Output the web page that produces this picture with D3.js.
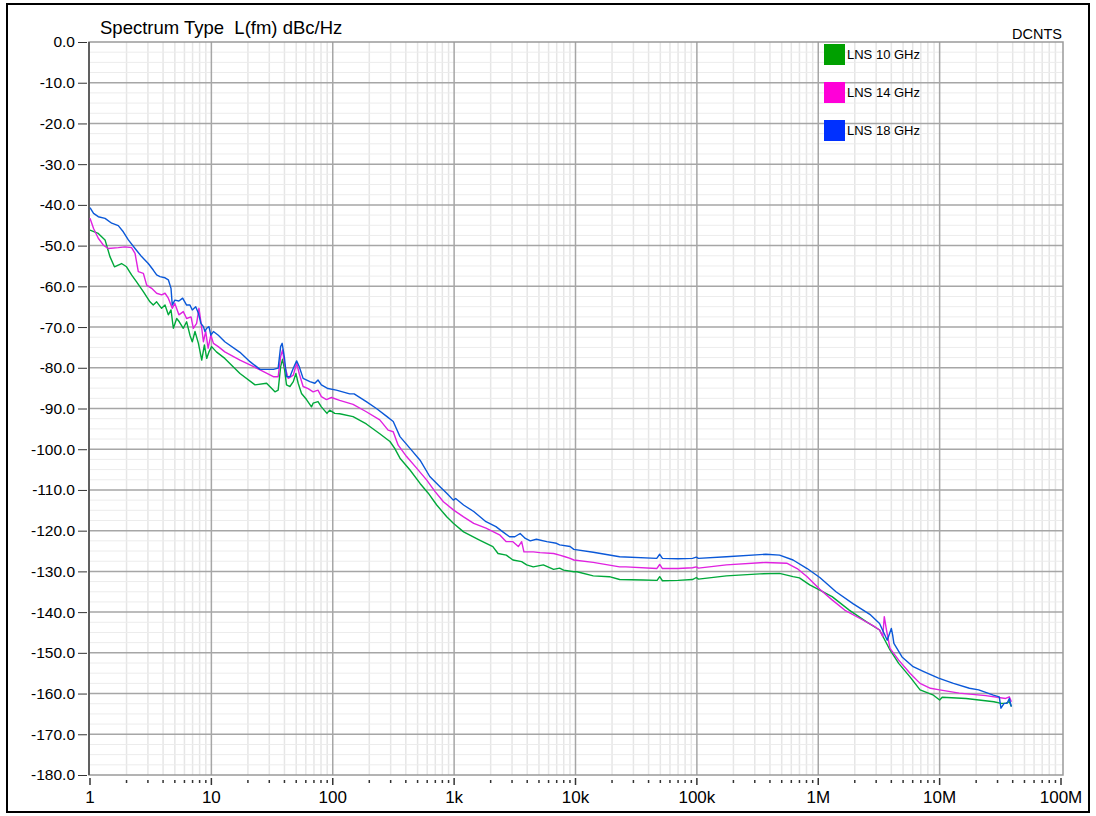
<!DOCTYPE html>
<html>
<head>
<meta charset="utf-8">
<script src="https://cdn.jsdelivr.net/npm/d3@7"></script>
<style>
  body { margin: 0; background: #fff; }
  svg { display: block; font-family: "Liberation Sans", Arial, sans-serif; }
</style>
</head>
<body>
<div id="chart"></div>
<script>
// [offset frequency Hz, L(f) dBc/Hz]
const lns10 = [
  [1, -46.2], [1.17, -47.0], [1.33, -48.6], [1.46, -52.7], [1.59, -55.2], [1.82, -54.4],
  [2.0, -55.2], [2.2, -57.2], [2.42, -58.9], [2.75, -61.3], [3.12, -63.8], [3.32, -64.6],
  [3.54, -63.8], [3.89, -65.4], [4.15, -64.6], [4.42, -67.0], [4.65, -65.8], [4.86, -70.3],
  [5.18, -67.9], [5.44, -68.7], [5.87, -70.3], [6.25, -68.7], [6.66, -72.0], [6.96, -73.6],
  [7.33, -71.1], [7.82, -74.0], [8.33, -78.1], [8.76, -74.4], [9.15, -77.7], [9.55, -76.1],
  [10.05, -74.8], [11.0, -76.1], [12.9, -77.7], [17.2, -81.4], [22.9, -84.2], [28.5, -83.8],
  [33.4, -85.9], [35.5, -85.5], [37.2, -79.7], [38.6, -77.9], [40.1, -80.5], [41.6, -84.2],
  [44.4, -84.6], [47.3, -83.4], [49.7, -81.4], [51.9, -83.8], [55.3, -86.3], [60.8, -87.8],
  [66.8, -89.6], [68.9, -88.7], [75.6, -88.3], [80.6, -89.6], [89.6, -91.2], [94.3, -90.4],
  [103.8, -91.2], [114, -91.3], [147, -92.0], [189, -93.8], [244, -96.2], [296, -98.1],
  [324, -99.8], [358, -102.2], [433, -105.1], [524, -108.4], [612, -110.8], [719, -113.7],
  [869, -116.6], [985, -118.2], [1196, -120.3], [1620, -122.3], [2085, -123.9], [2300, -125.6],
  [2690, -126.0], [3050, -127.2], [3600, -127.6], [3960, -128.4], [4490, -128.9], [5430, -128.4],
  [6600, -129.5], [7400, -129.2], [7980, -129.7], [9680, -130.1], [10300, -130.1], [14000, -131.1],
  [19000, -131.3], [23100, -132.0], [36000, -132.1], [47000, -132.2], [49400, -131.3], [52000, -132.3],
  [70000, -132.2], [92000, -132.0], [99000, -131.5], [103000, -131.9], [175000, -131.1], [330000, -130.6],
  [480000, -130.5], [620000, -131.3], [700000, -131.6], [850000, -133.3], [1.03e6, -134.6],
  [1.3e6, -136.2], [1.8e6, -139.5], [2.5e6, -142.4], [3.2e6, -144.4], [3.9e6, -149.3],
  [4.6e6, -152.6], [5.7e6, -155.9], [6.9e6, -159.1], [8.9e6, -160.4], [1.0e7, -161.6],
  [1.05e7, -160.9], [1.65e7, -161.2], [2.8e7, -162.0], [3.2e7, -162.4], [3.5e7, -162.4],
  [3.75e7, -162.0], [3.9e7, -163.2]
];

const lns14 = [
  [1, -43.3], [1.07, -45.8], [1.17, -48.2], [1.29, -49.9], [1.41, -50.7], [1.71, -50.5],
  [1.94, -50.3], [2.2, -50.5], [2.35, -51.9], [2.5, -56.4], [2.75, -56.8], [2.93, -59.7],
  [3.22, -60.5], [3.54, -61.7], [3.89, -62.1], [4.15, -61.7], [4.42, -62.9], [4.76, -65.4],
  [5.0, -64.2], [5.4, -67.0], [5.87, -66.2], [6.25, -67.9], [6.8, -67.5], [7.1, -70.3],
  [7.56, -69.1], [7.9, -65.4], [8.2, -68.7], [8.6, -73.6], [8.98, -71.1], [9.4, -75.2],
  [9.9, -72.0], [10.4, -74.0], [11.4, -74.8], [12.9, -76.1], [17.2, -78.1], [20.8, -79.3],
  [25.2, -80.5], [32.4, -82.2], [35.5, -82.2], [37.2, -77.3], [38.6, -75.6], [40.3, -79.7],
  [43, -82.6], [47.3, -81.8], [50.4, -78.9], [52.9, -81.4], [57, -84.6], [62.7, -85.1],
  [68.9, -85.9], [75.6, -85.5], [80.6, -87.1], [88.7, -87.8], [97.6, -87.3], [114, -88.0],
  [147, -89.0], [189, -90.8], [244, -92.8], [286, -95.3], [315, -95.7], [346, -99.0],
  [406, -101.8], [493, -104.7], [595, -107.6], [697, -110.4], [816, -112.9], [985, -114.9],
  [1196, -116.6], [1450, -118.2], [1830, -119.4], [2390, -121.1], [2690, -122.7], [3050, -122.7],
  [3380, -123.9], [3600, -122.7], [3760, -125.2], [4490, -125.2], [5100, -125.4], [6600, -125.6],
  [7400, -126.0], [8200, -126.4], [9030, -126.8], [9680, -127.2], [14000, -127.8], [23100, -128.9],
  [26000, -128.9], [46700, -129.3], [49400, -128.3], [52000, -129.3], [70000, -129.3], [92000, -129.1],
  [99000, -128.9], [103000, -129.2], [175000, -128.4], [370000, -127.8], [550000, -128.0], [670000, -129.3],
  [810000, -131.3], [1.03e6, -134.4], [1.3e6, -137.0], [1.65e6, -139.5], [2.35e6, -142.0],
  [2.85e6, -143.4], [3.2e6, -144.4], [3.4e6, -146.0], [3.5e6, -141.1], [3.65e6, -144.4],
  [3.9e6, -148.9], [4.6e6, -151.8], [5.7e6, -155.0], [6.9e6, -157.5], [8.4e6, -158.7],
  [1.0e7, -159.1], [1.45e7, -159.9], [2.4e7, -160.5], [3.5e7, -161.2], [3.75e7, -160.8],
  [3.9e7, -162.0]
];

const lns18 = [
  [1, -40.7], [1.07, -42.1], [1.17, -42.9], [1.33, -43.3], [1.51, -44.5], [1.71, -45.1],
  [1.88, -46.6], [2.07, -48.6], [2.35, -50.7], [2.66, -52.7], [3.02, -54.4], [3.32, -56.0],
  [3.54, -57.2], [3.77, -57.6], [4.15, -57.9], [4.42, -58.4], [4.65, -60.5], [4.76, -64.6],
  [5.0, -63.4], [5.4, -63.6], [5.8, -62.9], [6.25, -64.6], [6.66, -64.6], [6.96, -65.8],
  [7.43, -65.0], [7.82, -66.6], [8.2, -69.1], [8.6, -69.9], [8.85, -71.1], [9.15, -70.3],
  [9.55, -69.9], [9.9, -72.0], [10.4, -71.1], [11.4, -72.0], [12.9, -73.6], [17.2, -76.2],
  [20.8, -78.5], [25.2, -80.4], [32.4, -80.4], [35.5, -80.1], [37.2, -74.8], [38.3, -74.0],
  [39.9, -77.3], [41.6, -82.2], [44.4, -82.2], [47.3, -80.1], [50.4, -78.3], [52.9, -79.7],
  [57, -82.6], [64.8, -83.4], [71.2, -83.8], [75.6, -83.0], [80.6, -84.2], [91.3, -85.1],
  [107, -85.5], [138, -86.4], [150, -86.4], [189, -88.3], [229, -90.0], [280, -92.0],
  [315, -93.2], [358, -96.9], [433, -99.8], [524, -102.7], [630, -106.7], [765, -109.2],
  [869, -110.8], [985, -112.5], [1030, -112.1], [1196, -113.7], [1450, -115.3], [1830, -117.8],
  [2210, -119.0], [2520, -120.3], [2860, -121.5], [3160, -121.5], [3500, -120.7], [3860, -121.9],
  [4240, -122.5], [4760, -122.1], [5800, -122.7], [6960, -123.1], [7400, -123.5], [9030, -123.9],
  [9680, -124.6], [14000, -125.3], [23100, -126.4], [46700, -126.8], [49400, -125.8], [52000, -126.8],
  [70000, -126.9], [92000, -126.8], [99000, -126.5], [103000, -126.8], [175000, -126.4], [370000, -125.8],
  [480000, -126.0], [620000, -127.2], [810000, -129.3], [1.03e6, -131.5], [1.4e6, -135.0],
  [1.93e6, -137.9], [2.7e6, -140.7], [3.2e6, -142.8], [3.7e6, -146.9], [4.0e6, -144.0],
  [4.1e6, -145.6], [4.2e6, -147.7], [4.9e6, -151.0], [6.05e6, -153.4], [7.4e6, -154.6],
  [9.8e6, -156.2], [1.3e7, -157.5], [1.76e7, -158.7], [2.1e7, -159.1], [2.77e7, -160.4],
  [3.1e7, -160.8], [3.2e7, -163.6], [3.4e7, -162.4], [3.6e7, -162.4], [3.75e7, -161.2],
  [3.9e7, -163.2]
];

const seriesNames = ["LNS 10 GHz", "LNS 14 GHz", "LNS 18 GHz"];
const seriesData = [lns10, lns14, lns18];
const lineColors = ["#00a83a", "#e022e0", "#0a58d8"];
const swatchColors = ["#00a000", "#ff00d8", "#0030ff"];

const xTickValues = [1, 10, 100, 1e3, 1e4, 1e5, 1e6, 1e7, 1e8];
const xTickLabels = ["1", "10", "100", "1k", "10k", "100k", "1M", "10M", "100M"];
const yTickValues = d3.range(0, -181, -10);

const W = 1096, H = 816;
const plot = { left: 89, right: 1063, top: 42, bottom: 775 };

const svg = d3.select("#chart").append("svg")
  .attr("width", W)
  .attr("height", H);

const x = d3.scaleLog().domain([1, 1e8]).range([90, 1061]);
const y = d3.scaleLinear().domain([0, -180]).range([plot.top, plot.bottom]);

// outer frame
svg.append("rect")
  .attr("x", 7).attr("y", 4)
  .attr("width", 1082).attr("height", 808)
  .attr("fill", "none").attr("stroke", "#000").attr("stroke-width", 2);

const grid = svg.append("g");

// minor grid
const xMinor = [];
for (let d = 0; d < 8; d++) {
  for (let k = 2; k <= 9; k++) xMinor.push(k * Math.pow(10, d));
}
grid.selectAll(".xminor").data(xMinor).enter().append("line")
  .attr("x1", (d) => x(d)).attr("x2", (d) => x(d))
  .attr("y1", plot.top).attr("y2", plot.bottom)
  .attr("stroke", "#e6e6e6").attr("stroke-width", 1.5);

const yMinor = d3.range(0, -180.1, -2.5).filter((v) => v % 10 !== 0);
grid.selectAll(".yminor").data(yMinor).enter().append("line")
  .attr("x1", plot.left).attr("x2", plot.right)
  .attr("y1", (d) => y(d)).attr("y2", (d) => y(d))
  .attr("stroke", "#ececec").attr("stroke-width", 1);

// major grid
grid.selectAll(".xmajor").data(xTickValues.slice(1, -1)).enter().append("line")
  .attr("x1", (d) => x(d)).attr("x2", (d) => x(d))
  .attr("y1", plot.top).attr("y2", plot.bottom)
  .attr("stroke", "#a6a6a6").attr("stroke-width", 1.5);

grid.selectAll(".ymajor").data(yTickValues.slice(1, -1)).enter().append("line")
  .attr("x1", plot.left).attr("x2", plot.right)
  .attr("y1", (d) => y(d)).attr("y2", (d) => y(d))
  .attr("stroke", "#a6a6a6").attr("stroke-width", 1.5);

// plot frame
svg.append("rect")
  .attr("x", plot.left).attr("y", plot.top)
  .attr("width", plot.right - plot.left).attr("height", plot.bottom - plot.top)
  .attr("fill", "none").attr("stroke", "#9a9a9a").attr("stroke-width", 1.5);
svg.append("line")
  .attr("x1", plot.left).attr("x2", plot.left)
  .attr("y1", plot.top).attr("y2", plot.bottom)
  .attr("stroke", "#444").attr("stroke-width", 1.5);

// Y axis
const yAxis = svg.append("g")
  .attr("transform", `translate(${plot.left - 2},0)`)
  .call(d3.axisLeft(y).tickValues(yTickValues).tickSize(9).tickPadding(3)
    .tickFormat((d) => d3.format(".1f")(d).replace("−", "-")));
yAxis.select(".domain").remove();
yAxis.selectAll("line").attr("stroke", "#333");
yAxis.selectAll("text")
  .attr("font-size", 15.5).attr("fill", "#000")
  .attr("font-family", "'Liberation Sans', Arial, sans-serif");

// X axis
const xAllTicks = xTickValues.concat(xMinor);
const xAxis = svg.append("g")
  .attr("transform", `translate(0,${plot.bottom + 3})`);
xAxis.selectAll(".tk").data(xAllTicks).enter().append("line")
  .attr("x1", (d) => x(d)).attr("x2", (d) => x(d))
  .attr("y1", (d) => xTickValues.includes(d) ? 0 : 2)
  .attr("y2", (d) => xTickValues.includes(d) ? 7 : 5)
  .attr("stroke", "#333").attr("stroke-width", 1.5);
xAxis.selectAll(".lb").data(xTickValues).enter().append("text")
  .attr("x", (d) => x(d))
  .attr("y", 25)
  .attr("text-anchor", "middle")
  .attr("font-size", 17)
  .text((d, i) => xTickLabels[i]);

// curves
const line = d3.line()
  .x((d) => x(d[0]))
  .y((d) => y(d[1]));

seriesData.forEach((data, i) => {
  svg.append("path")
    .datum(data)
    .attr("fill", "none")
    .attr("stroke", lineColors[i])
    .attr("stroke-width", 1.4)
    .attr("stroke-linejoin", "round")
    .attr("d", line);
});

// legend
const legend = svg.append("g").attr("transform", "translate(824,44)");
seriesNames.forEach((name, i) => {
  const g = legend.append("g").attr("transform", `translate(0,${i * 38})`);
  g.append("rect")
    .attr("width", 21).attr("height", 21)
    .attr("fill", swatchColors[i]);
  g.append("text")
    .attr("x", 23).attr("y", 15)
    .attr("font-size", 13)
    .text(name);
});

// titles
svg.append("text")
  .attr("x", 100).attr("y", 34)
  .attr("font-size", 18.5)
  .style("white-space", "pre")
  .text("Spectrum Type  L(fm) dBc/Hz");

svg.append("text")
  .attr("x", 1062).attr("y", 39)
  .attr("text-anchor", "end")
  .attr("font-size", 14.5)
  .text("DCNTS");
</script>
</body>
</html>
